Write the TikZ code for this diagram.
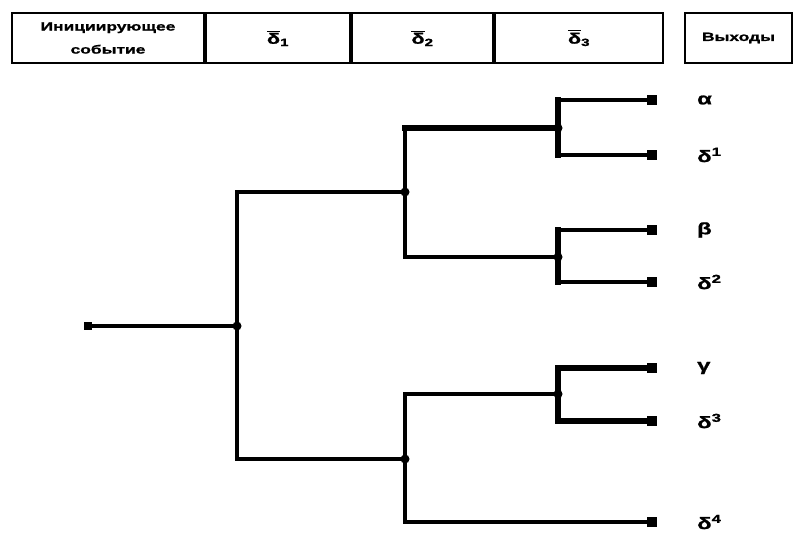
\documentclass[tikz,border=0pt]{standalone}
\usepackage{amsmath}
\usepackage{fontspec}
\setmainfont{Liberation Sans}
\newfontfamily\hdrfamily{Liberation Sans}[FakeStretch=1.45, BoldFeatures={FakeBold=1.2}]
\usetikzlibrary{positioning}

\begin{document}
\begin{tikzpicture}[x=1pt, y=-1pt,
    hcell/.style={draw, line width=2pt, minimum height=50pt, inner sep=0pt, align=center,
      font=\hdrfamily\bfseries\fontsize{12}{23}\selectfont},
    sigcell/.style={hcell, font=\hdrfamily\bfseries\fontsize{15}{18}\selectfont},
    wire/.style={line width=3.3pt},
    hot/.style={line width=5.5pt, line cap=rect},
    fork/.style={circle, fill, inner sep=0pt, minimum size=9pt},
    endsq/.style={rectangle, fill, inner sep=0pt, minimum size=9.5pt},
    outlbl/.style={anchor=west, inner sep=0pt, font=\hdrfamily\bfseries\fontsize{16.5}{19}\selectfont}]
  \useasboundingbox (0,0) rectangle (799,532);
  \node[hcell, minimum width=192pt, anchor=north west] (hev) at (11,12) {Инициирующее\\событие};
  \node[sigcell, minimum width=144pt, right=0pt of hev] (hs1) {$\overline{\text{δ}}_{\text{1}}$};
  \node[sigcell, minimum width=141pt, right=0pt of hs1] (hs2) {$\overline{\text{δ}}_{\text{2}}$};
  \node[sigcell, minimum width=168pt, right=0pt of hs2] (hs3) {$\overline{\text{δ}}_{\text{3}}$};
  \node[hcell, minimum width=107pt, anchor=north west] (hout) at (684,12) {Выходы};
  \node[endsq, minimum size=8.5pt] (ie) at (88,326) {};
  \node[fork] (a) at (237,326) {};
  \node[fork] (b) at (405,192) {};
  \node[fork] (e) at (405,459) {};
  \node[fork] (c) at (558,128) {};
  \node[fork] (d) at (558,257) {};
  \node[fork] (f) at (558,394) {};
  \node[endsq] (oa) at (652,100) {};
  \node[endsq] (od1) at (652,155) {};
  \node[endsq] (ob) at (652,230) {};
  \node[endsq] (od2) at (652,282) {};
  \node[endsq] (og) at (652,368) {};
  \node[endsq] (od3) at (652,421) {};
  \node[endsq] (od4) at (652,522) {};
  \node[outlbl, right=40pt of oa] {α};
  \node[outlbl, right=40pt of od1] {δ\textsuperscript{1}};
  \node[outlbl, right=40pt of ob] {β};
  \node[outlbl, right=40pt of od2] {δ\textsuperscript{2}};
  \node[outlbl, right=40pt of og] {γ};
  \node[outlbl, right=40pt of od3] {δ\textsuperscript{3}};
  \node[outlbl, right=40pt of od4] {δ\textsuperscript{4}};
  \draw[wire] (ie.center) -- (a.center);
  \draw[wire] (a.center) |- (b.center);
  \draw[wire] (a.center) |- (e.center);
  \draw[wire] (b.center) |- (c.center);
  \draw[hot] (b.center |- c.center) -- (c.center);
  \draw[wire] (b.center) |- (d.center);
  \draw[wire] (e.center) |- (f.center);
  \draw[wire] (e.center) |- (od4.center);
  \draw[hot] (c.center |- oa.center) -- (c.center |- od1.center);
  \draw[wire] (c.center |- oa.center) -- (oa.center);
  \draw[wire] (c.center |- od1.center) -- (od1.center);
  \draw[hot] (d.center |- ob.center) -- (d.center |- od2.center);
  \draw[wire] (d.center |- ob.center) -- (ob.center);
  \draw[wire] (d.center |- od2.center) -- (od2.center);
  \draw[hot] (f.center |- og.center) -- (f.center |- od3.center);
  \draw[hot] (f.center |- og.center) -- (og.center);
  \draw[hot] (f.center |- od3.center) -- (od3.center);
\end{tikzpicture}
\end{document}
